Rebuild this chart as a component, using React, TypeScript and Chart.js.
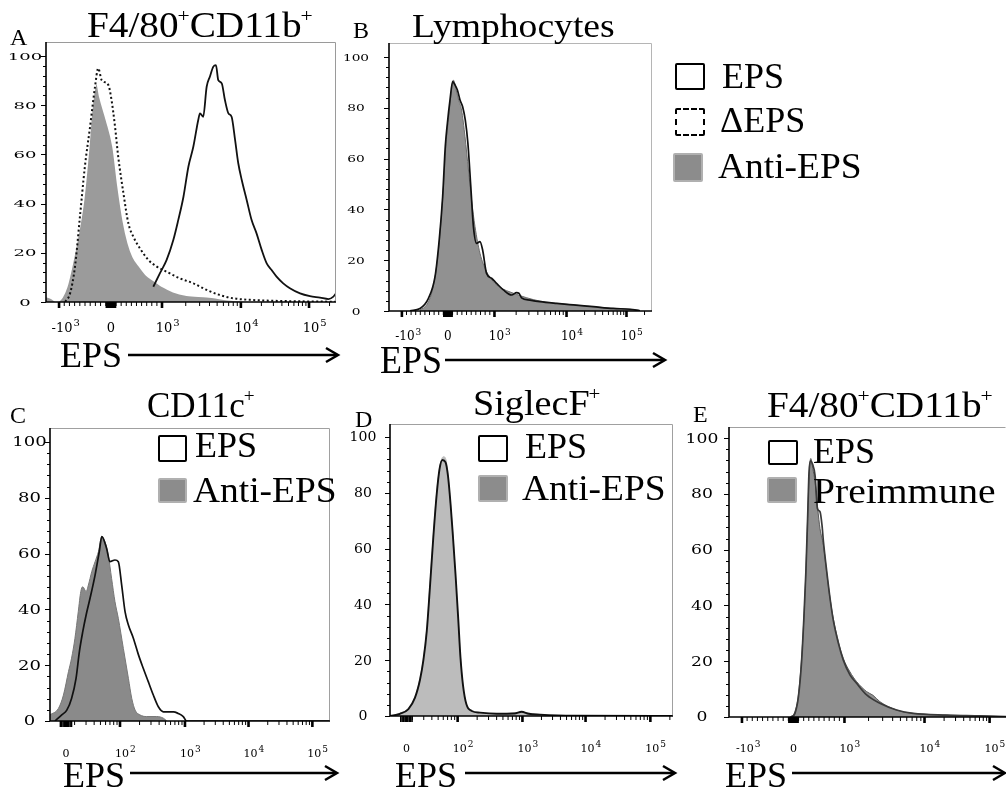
import React, { useEffect, useRef } from 'react';
import { Chart, registerables } from 'chart.js';
Chart.register(...registerables);

type Pt = [number, number];

const W = 1006;
const H = 788;

// ---------------- axis labels ----------------
const Y_LABELS = [0, 20, 40, 60, 80, 100];
const Y_MINOR_STEP = 4;
const BIEX_LABELS = ['-10^3', '0', '10^3', '10^4', '10^5'];
const LOG_LABELS = ['0', '10^2', '10^3', '10^4', '10^5'];
// tick channels (0..1000 display channels)
const A_TICKS = [45, 224, 400, 672, 907];
const B_TICKS = [49, 224, 401, 675, 903];
const C_TICKS = [57, 250, 482, 709, 937];
const D_TICKS = [58, 239, 468, 691, 920];
const E_TICKS = [45, 224, 401, 679, 905];

// ---------------- series (channel, % of max) ----------------
const A_ANTI: Pt[] = [[0,2.4],[20,1.5],[37,0.2],[55,2],[71,6.2],[88,14.4],[111,28],[129,41.5],[146,62],[157,78],[169,88],[176,89],[186,83.5],[209,74],[232,63],[249,47],[267,33],[284,24],[301,18.4],[324,14.4],[347,11],[370,9],[405,6.2],[439,4.2],[485,2.8],[554,2.2],[646,0.8],[761,0.1],[1000,0]];
const A_DELTA: Pt[] = [[66,0.1],[83,3.5],[100,14.4],[117,34.7],[134,55],[152,71.3],[169,87.5],[180,95],[192,90.2],[215,88.2],[226,82.1],[238,71.3],[249,59.1],[267,44.2],[284,32],[301,26.6],[324,21.8],[353,17.1],[382,14.4],[416,12.3],[462,9.6],[508,7.6],[554,4.9],[600,2.8],[646,1.5],[715,0.8],[818,0.4],[1000,0.1]];
const A_EPS: Pt[] = [[370,6.2],[393,11.7],[416,17.1],[439,25.2],[456,33.3],[474,42.8],[491,55],[508,63.1],[525,74],[531,76.7],[542,75.3],[554,87.5],[565,91.6],[577,95.7],[586,96.3],[594,90.2],[606,88.9],[617,82.1],[629,76.7],[640,75.3],[652,65.9],[663,56.4],[675,49.6],[692,41.5],[709,33.3],[726,27.9],[744,21.1],[761,15.7],[778,13],[795,10.3],[818,7.6],[841,5.6],[876,3.5],[910,2.4],[945,1.8],[974,1.2],[991,2.2],[1000,3.5]];

const B_ANTI: Pt[] = [[118,0.4],[143,2.4],[162,7],[181,17.5],[194,30.6],[207,49],[217,66],[226,75.2],[236,85.7],[245,90.9],[255,87],[265,83],[276,79.1],[289,68.6],[302,55.5],[314,43.7],[327,33.2],[346,22.7],[371,15.5],[397,11.5],[422,9.3],[473,7],[524,5.2],[574,3.9],[638,3],[701,2.4],[777,1.7],[853,1],[916,0.7],[954,0.1]];
const B_EPS: Pt[] = [[80,0.1],[118,1],[150,5],[175,13.5],[191,28],[204,45],[214,64.7],[222,73.9],[232,83.1],[242,90.3],[251,89],[260,87],[270,83.1],[280,80.4],[290,75.2],[300,66],[311,49],[321,33.2],[333,26.6],[346,27.3],[356,24],[371,14.8],[390,12.9],[409,10.9],[435,8.3],[466,6.3],[485,7.2],[494,7],[504,5.2],[536,4.3],[574,3.7],[638,3],[701,2.4],[777,1.7],[853,1],[916,0.7],[954,0.1]];

const C_ANTI: Pt[] = [[0,2.2],[30,4.5],[48,9.3],[66,17.7],[77,22.5],[89,29.6],[101,39.2],[110,46.4],[117,48.1],[129,46.4],[137,48.7],[149,53.5],[161,57.1],[173,60.7],[185,66.1],[196,64.3],[208,59.5],[220,51.1],[232,42.8],[244,36.8],[262,26],[280,15.3],[292,8.1],[304,3.9],[321,2.2],[345,1.6],[381,1.6],[405,1],[417,0]];
const C_EPS: Pt[] = [[18,0],[42,2.2],[60,3.9],[77,8.1],[93,15.3],[105,24.9],[117,32],[129,38],[143,44],[161,52.3],[176,60.7],[185,66.1],[202,61.9],[214,57.1],[232,57.7],[244,57.1],[256,48.7],[268,39.2],[280,34.4],[298,29.6],[316,23.7],[333,18.9],[351,14.1],[369,9.3],[387,5.1],[405,3.3],[441,3.3],[458,2.7],[476,1.6],[488,0],[1000,0]];

const D_ANTI: Pt[] = [[0,0],[35,1],[65,2.7],[88,6.9],[106,13.5],[118,20.7],[130,31.4],[141,47],[153,64.9],[165,80.4],[177,90],[189,93],[198,91.8],[206,85.2],[216,73.2],[224,62.5],[233,47],[242,32.6],[250,19.5],[259,9.9],[271,3.9],[289,1.6],[318,1],[377,0.7],[465,1.3],[530,0.4],[648,0],[1000,0]];
const D_EPS: Pt[] = [[0,0],[35,0.8],[65,2.5],[88,6.5],[106,13],[118,20],[130,30.5],[141,46],[153,64],[165,79.5],[175,88.5],[185,91.8],[196,91],[205,86],[214,76],[222,65],[232,50],[241,35],[249,21],[258,11],[270,4.2],[289,1.8],[318,1.2],[377,0.8],[440,0.9],[465,1.5],[490,0.8],[530,0.5],[648,0.1],[1000,0]];

const E_PRE: Pt[] = [[212,0],[229,1.9],[241,7.9],[252,21],[260,35.4],[267,52.1],[273,71.2],[279,87.9],[284,92.7],[291,89.1],[299,84.3],[308,74.8],[316,67.6],[328,61.6],[339,52.1],[351,42.5],[362,35.4],[380,27],[397,21],[420,16.2],[443,12.7],[478,9.1],[500,7.8],[524,5.5],[582,2.5],[640,1.3],[756,0.7],[872,0.4],[962,0.1]];
const E_EPS: Pt[] = [[217,0],[229,1.3],[241,7.2],[252,19.8],[260,35.4],[267,52.1],[273,71.2],[278,87.9],[283,91.9],[290,90.7],[299,86.5],[307,74.8],[316,73.6],[323,68.8],[328,62.8],[339,52.6],[351,42.5],[362,34.8],[380,26.4],[397,20.4],[420,15.1],[443,12.1],[478,7.9],[524,4.9],[582,2.5],[640,1.3],[756,0.7],[872,0.4],[962,0.1]];

// ---------------- panel layout / styles ----------------
type SetStyle = { data: Pt[]; fill?: string; border: string; width: number; dash?: number[]; order: number };
type Panel = {
  key: string;
  area: [number, number, number, number];
  yMax: number;
  xMax: number;
  ticks: number[];
  labels: string[];
  kind: 'biex' | 'log';
  yDx: number; yFont: number; yStretch: number;
  xFont: number; xSup: number; xDy: number;
  rightFrame: boolean;
  frameColor: string;
  sets: SetStyle[];
};

const PANELS: Panel[] = [
  { key: 'A', area: [46, 42, 336, 302], yMax: 105.7, xMax: 1000, ticks: A_TICKS, labels: BIEX_LABELS, kind: 'biex',
    yDx: 21, yFont: 10, yStretch: 1.8, xFont: 13, xSup: 10, xDy: 30, rightFrame: true, frameColor: '#9a9a9a',
    sets: [
      { data: A_ANTI, fill: '#9b9b9b', border: '#ffffff', width: 2, order: 2 },
      { data: A_DELTA, border: '#111', width: 2, dash: [2, 2.5], order: 1 },
      { data: A_EPS, border: '#111', width: 1.8, order: 0 },
    ] },
  { key: 'B', area: [389, 43, 652, 311], yMax: 105.5, xMax: 1000, ticks: B_TICKS, labels: BIEX_LABELS, kind: 'biex',
    yDx: 33, yFont: 10, yStretch: 1.37, xFont: 12, xSup: 9, xDy: 29, rightFrame: true, frameColor: '#b5b5b5',
    sets: [
      { data: B_ANTI, fill: '#919191', border: '#6e6e6e', width: 1, order: 1 },
      { data: B_EPS, border: '#111', width: 1.7, order: 0 },
    ] },
  { key: 'C', area: [50, 428, 330, 721], yMax: 105, xMax: 1000, ticks: C_TICKS, labels: LOG_LABELS, kind: 'log',
    yDx: 20.5, yFont: 12, yStretch: 1.5, xFont: 11, xSup: 9, xDy: 36, rightFrame: true, frameColor: '#a0a0a0',
    sets: [
      { data: C_ANTI, fill: '#8a8a8a', border: '#777', width: 1, order: 1 },
      { data: C_EPS, border: '#111', width: 1.7, order: 0 },
    ] },
  { key: 'D', area: [390, 424, 673, 716], yMax: 104.7, xMax: 1000, ticks: D_TICKS, labels: LOG_LABELS, kind: 'log',
    yDx: 27, yFont: 12, yStretch: 1.17, xFont: 11, xSup: 9, xDy: 36, rightFrame: true, frameColor: '#a0a0a0',
    sets: [
      { data: D_ANTI, fill: '#bcbcbc', border: '#bcbcbc', width: 1, order: 1 },
      { data: D_EPS, border: '#111', width: 1.9, order: 0 },
    ] },
  { key: 'E', area: [729, 427, 1006, 717], yMax: 104, xMax: 962, ticks: E_TICKS, labels: BIEX_LABELS, kind: 'biex',
    yDx: 27, yFont: 12, yStretch: 1.43, xFont: 11, xSup: 9, xDy: 35, rightFrame: false, frameColor: '#a0a0a0',
    sets: [
      { data: E_PRE, fill: '#8f8f8f', border: '#5a5a5a', width: 1, order: 1 },
      { data: E_EPS, border: '#3a3a3a', width: 1.7, order: 0 },
    ] },
];

function minorTicks(p: Panel): { minor: number[]; cluster: number[] } {
  const minor: number[] = [];
  const cluster: number[] = [];
  if (p.kind === 'biex') {
    const [pm, p0, p3, p4, p5] = p.ticks;
    for (let k = 1; k <= 9; k++) {
      cluster.push(p0 + (p3 - p0) * (k * 10) / 1000, p0 - (p0 - pm) * (k * 10) / 1000);
      minor.push(p0 + (p3 - p0) * (k * 100) / 1000, p0 - (p0 - pm) * (k * 100) / 1000);
    }
    for (let m = 2; m <= 9; m++) {
      const l = Math.log10(m);
      minor.push(p3 + (p4 - p3) * l, p4 + (p5 - p4) * l, p5 + (p5 - p4) * l);
    }
  } else {
    const [p0, p2, p3, p4, p5] = p.ticks;
    const dec = [p2 - (p3 - p2), p2, p3, p4, p5, p5 + (p5 - p4)];
    for (let k = 0; k < 5; k++) {
      for (let m = 2; m <= 9; m++) {
        const c = dec[k] + (dec[k + 1] - dec[k]) * Math.log10(m);
        if (c > p0 + 14) minor.push(c);
      }
    }
    for (let j = -4; j <= 4; j++) cluster.push(p0 + j * 5);
  }
  return { minor: minor.filter((c) => c > 0 && c < p.xMax), cluster: cluster.filter((c) => c > 0 && c < p.xMax) };
}

function makeAxes(p: Panel) {
  return {
    id: 'flowAxes' + p.key,
    afterDatasetsDraw(chart: any) {
      const { ctx, chartArea: a, scales } = chart;
      const x = scales.x;
      const y = scales.y;
      ctx.save();
      // frame
      ctx.strokeStyle = p.frameColor;
      ctx.lineWidth = 1;
      ctx.beginPath();
      ctx.moveTo(a.left, a.top + 0.5);
      ctx.lineTo(a.right - 0.5, a.top + 0.5);
      if (p.rightFrame) ctx.lineTo(a.right - 0.5, a.bottom);
      ctx.stroke();
      // axis lines
      ctx.strokeStyle = '#000';
      ctx.lineWidth = 1.6;
      ctx.beginPath();
      ctx.moveTo(a.left, a.top);
      ctx.lineTo(a.left, a.bottom);
      ctx.lineTo(a.right, a.bottom);
      ctx.stroke();
      // y ticks
      ctx.lineWidth = 1;
      for (let v = 0; v <= 100; v += Y_MINOR_STEP) {
        const py = Math.round(y.getPixelForValue(v)) + 0.5;
        const len = v % 20 === 0 ? 5 : 3;
        ctx.beginPath();
        ctx.moveTo(a.left - len, py);
        ctx.lineTo(a.left, py);
        ctx.stroke();
      }
      // y labels
      ctx.fillStyle = '#000';
      ctx.font = `${p.yFont}px "DejaVu Serif"`;
      ctx.textAlign = 'center';
      ctx.textBaseline = 'alphabetic';
      for (const v of Y_LABELS) {
        const py = y.getPixelForValue(v);
        ctx.save();
        ctx.translate(a.left - p.yDx, py + p.yFont * 0.364);
        ctx.scale(p.yStretch, 1);
        ctx.fillText(String(v), 0, 0);
        ctx.restore();
      }
      // x ticks
      const tick = (c: number, len: number, w: number) => {
        const px = x.getPixelForValue(c);
        ctx.lineWidth = w;
        ctx.beginPath();
        ctx.moveTo(px, a.bottom);
        ctx.lineTo(px, a.bottom + len);
        ctx.stroke();
      };
      const { minor, cluster } = minorTicks(p);
      minor.forEach((c) => tick(c, 4, 1));
      cluster.forEach((c) => tick(c, 6, 1.5));
      p.ticks.forEach((c) => tick(c, 6, 2.6));
      // x labels
      p.labels.forEach((lab, i) => {
        const [base, sup] = lab.split('^');
        const px = x.getPixelForValue(p.ticks[i]);
        const dx = base.startsWith('-') ? 3 : base === '0' ? 0 : 2;
        ctx.font = `${p.xFont}px "DejaVu Serif"`;
        ctx.textAlign = 'center';
        const bw = ctx.measureText(base).width;
        const by = a.bottom + p.xDy;
        ctx.fillText(base, px + dx, by);
        if (sup) {
          ctx.font = `${p.xSup}px "DejaVu Serif"`;
          ctx.textAlign = 'left';
          ctx.fillText(sup, px + dx + bw / 2 + 1, by - p.xFont * 0.45);
        }
      });
      ctx.restore();
    },
  };
}

function PanelChart({ p }: { p: Panel }) {
  const ref = useRef<HTMLCanvasElement>(null);
  useEffect(() => {
    if (!ref.current) return;
    const [l, t, r, b] = p.area;
    const chart = new Chart(ref.current, {
      type: 'line',
      data: {
        datasets: p.sets.map((s) => ({
          data: s.data.map(([cx, cy]) => ({ x: cx, y: cy })),
          borderColor: s.border,
          borderWidth: s.width,
          borderDash: s.dash || [],
          backgroundColor: s.fill || 'transparent',
          fill: s.fill ? 'origin' : false,
          pointRadius: 0,
          cubicInterpolationMode: 'monotone',
          order: s.order,
        })),
      },
      options: {
        animation: false,
        responsive: false,
        events: [],
        layout: { padding: { left: l, top: t, right: W - r, bottom: H - b } },
        scales: {
          x: { type: 'linear', min: 0, max: p.xMax, display: false },
          y: { type: 'linear', min: 0, max: p.yMax, display: false },
        },
        plugins: { legend: { display: false }, tooltip: { enabled: false } },
      },
      plugins: [makeAxes(p)],
    } as any);
    return () => chart.destroy();
  }, [p]);
  return <canvas ref={ref} width={W} height={H} style={{ position: 'absolute', left: 0, top: 0, width: W, height: H }} />;
}

const FF = '"Liberation Serif", "Times New Roman", serif';

function T({ x, y, s, sx = 1, sy = 1, children }: { x: number; y: number; s: number; sx?: number; sy?: number; children: React.ReactNode }) {
  const base = 0.8375 * s;
  return (
    <div style={{ position: 'absolute', left: x, top: y - base, fontSize: s, lineHeight: `${s}px`, fontFamily: FF, whiteSpace: 'nowrap', color: '#000',
      transform: `scale(${sx}, ${sy})`, transformOrigin: `0px ${base}px` }}>{children}</div>
  );
}

function Sup({ s }: { s: number }) {
  return <span style={{ position: 'relative', top: -0.42 * s, fontSize: 0.55 * s, marginLeft: -1 }}>+</span>;
}

function Box({ x, y, w, h, kind }: { x: number; y: number; w: number; h: number; kind: 'solid' | 'dash' | 'gray' }) {
  const st: React.CSSProperties = { position: 'absolute', left: x, top: y, width: w, height: h, boxSizing: 'border-box', borderRadius: 2 };
  if (kind === 'solid') Object.assign(st, { border: '2.5px solid #000', background: '#fff' });
  if (kind === 'dash') Object.assign(st, { border: '2.5px dashed #000', background: '#fff' });
  if (kind === 'gray') Object.assign(st, { border: '2px solid #b0b0b0', background: '#8c8c8c' });
  return <div style={st} />;
}

const ARROWS: [number, number, number][] = [
  [128, 338, 355],
  [445, 665, 360],
  [130, 337, 773],
  [465, 675, 773],
  [792, 1005, 773],
];

export default function App() {
  return (
    <div style={{ position: 'absolute', left: 0, top: 0, width: W, height: H, overflow: 'hidden', background: '#fff' }}>
      {PANELS.map((p) => <PanelChart key={p.key} p={p} />)}
      <svg width={W} height={H} style={{ position: 'absolute', left: 0, top: 0 }}>
        {ARROWS.map(([x1, x2, y], i) => (
          <g key={i} stroke="#000" strokeWidth={2.5} fill="none">
            <line x1={x1} y1={y} x2={x2 - 1} y2={y} />
            <polyline points={`${x2 - 12},${y - 7} ${x2},${y} ${x2 - 12},${y + 7}`} />
          </g>
        ))}
      </svg>
      {/* panel letters */}
      <T x={10} y={45} s={24}>A</T>
      <T x={353} y={38} s={24}>B</T>
      <T x={10} y={423} s={24}>C</T>
      <T x={355} y={427} s={24}>D</T>
      <T x={693} y={422} s={24}>E</T>
      {/* titles */}
      <T x={87} y={37} s={36} sx={1.09}>F4/80<Sup s={36} />CD11b<Sup s={36} /></T>
      <T x={412} y={38} s={33} sx={1.14}>Lymphocytes</T>
      <T x={147} y={417} s={35}>CD11c<Sup s={35} /></T>
      <T x={473} y={415} s={36} sx={1.06}>SiglecF<Sup s={36} /></T>
      <T x={767} y={417} s={36} sx={1.09}>F4/80<Sup s={36} />CD11b<Sup s={36} /></T>
      {/* legend B */}
      <Box x={675} y={63} w={30} h={27} kind="solid" />
      <Box x={675} y={108} w={30} h={28} kind="dash" />
      <Box x={673} y={153} w={30} h={29} kind="gray" />
      <T x={722} y={88} s={36}>EPS</T>
      <T x={720} y={132} s={36}>ΔEPS</T>
      <T x={718} y={178} s={36} sx={1.04}>Anti-EPS</T>
      {/* legend C */}
      <Box x={158} y={435} w={29} h={27} kind="solid" />
      <Box x={158} y={478} w={29} h={25} kind="gray" />
      <T x={195} y={457} s={36}>EPS</T>
      <T x={193} y={502} s={36} sx={1.04}>Anti-EPS</T>
      {/* legend D */}
      <Box x={478} y={435} w={30} h={27} kind="solid" />
      <Box x={478} y={475} w={30} h={27} kind="gray" />
      <T x={525} y={458} s={36}>EPS</T>
      <T x={522} y={500} s={36} sx={1.04}>Anti-EPS</T>
      {/* legend E */}
      <Box x={768} y={440} w={30} h={25} kind="solid" />
      <Box x={767} y={477} w={30} h={26} kind="gray" />
      <T x={813} y={463} s={36}>EPS</T>
      <T x={813} y={503} s={36} sx={1.1}>Preimmune</T>
      {/* x axis titles */}
      <T x={60} y={367} s={36}>EPS</T>
      <T x={380} y={373} s={36} sy={1.12}>EPS</T>
      <T x={63} y={787} s={36}>EPS</T>
      <T x={395} y={787} s={36}>EPS</T>
      <T x={725} y={787} s={36}>EPS</T>
    </div>
  );
}
